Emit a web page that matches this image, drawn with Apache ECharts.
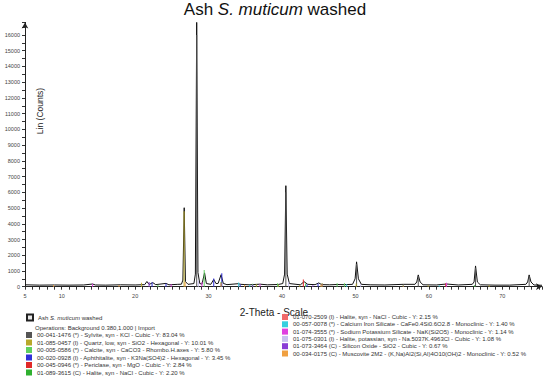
<!DOCTYPE html>
<html>
<head>
<meta charset="utf-8">
<script src="https://cdn.jsdelivr.net/npm/echarts@6/dist/echarts.min.js"></script>
<style>
  html, body { margin: 0; padding: 0; background: #fff; }
  #chart { width: 550px; height: 382px; }
</style>
</head>
<body>
<div id="chart"></div>
<script>
// measured pattern, [2-theta, counts]
const sampleName = 'Ash S. muticum washed'
const pattern = [
  [5, 120], [7, 100], [9, 110], [11, 100], [13, 110], [14.2, 170], [14.6, 110], [16, 100],
  [18, 120], [20, 110], [21.3, 130], [21.6, 330], [21.9, 140], [22.4, 260], [22.8, 130],
  [24.2, 210], [24.6, 120], [25.8, 150], [26.3, 160], [26.5, 420], [26.68, 5020], [26.85, 320],
  [27.2, 150], [28.0, 200], [28.2, 800], [28.38, 16800], [28.55, 900], [28.8, 200], [29.1, 160],
  [29.45, 880], [29.7, 200], [30.3, 150], [30.7, 460], [31.0, 200], [31.3, 210], [31.7, 760],
  [32.0, 210], [32.5, 130], [34.0, 190], [34.4, 150], [35.5, 120], [37.0, 160], [38.0, 120],
  [39.5, 140], [40.1, 200], [40.35, 800], [40.52, 6420], [40.7, 800], [41.0, 200], [42.5, 120],
  [43.0, 320], [43.5, 150], [44.5, 130], [45.0, 240], [45.4, 130], [46.5, 120], [47.5, 140],
  [48.5, 130], [49.6, 150], [49.95, 500], [50.15, 1580], [50.4, 500], [50.8, 150], [52, 120],
  [54, 110], [56.5, 150], [58.1, 150], [58.35, 300], [58.55, 750], [58.8, 300], [59.2, 120],
  [61, 110], [62.4, 170], [64, 110], [65.9, 150], [66.15, 300], [66.35, 1320], [66.6, 300],
  [67.0, 120], [69, 100], [71, 100], [73.2, 150], [73.45, 300], [73.65, 750], [73.9, 300],
  [74.3, 110], [75.4, 90]
]

// phase reference peaks, [2-theta, counts]
const sylvitePeaks = [[28.38, 16000], [40.52, 6000], [50.15, 1450], [58.55, 680], [66.35, 1200], [73.65, 680]]
const quartzPeaks = [[26.66, 4800], [20.86, 250], [36.5, 150], [39.5, 120], [42.4, 100], [50.1, 200], [59.9, 100], [68.2, 100]]
const calcitePeaks = [[29.4, 1060], [23.1, 120], [36.0, 180], [39.4, 220], [43.2, 200], [47.5, 220], [48.5, 220]]
const aphthitalitePeaks = [[30.7, 520], [31.8, 860], [22.3, 280], [24.2, 200], [34.3, 160], [43.4, 150], [44.9, 200]]
const periclasePeaks = [[42.9, 450], [62.3, 220]]
const halitePeaks = [[31.7, 300], [45.45, 220], [56.5, 90], [66.2, 100]]
const halite2Peaks = [[31.7, 250], [45.45, 200], [56.5, 80]]
const caFeSilicatePeaks = [[34.1, 260], [35.6, 120], [48.8, 160], [61.4, 100]]
const naKSilicatePeaks = [[29.1, 300], [14.2, 180], [24.9, 150], [37.0, 170], [62.4, 250]]
const halitePotassianPeaks = [[28.6, 400], [40.9, 300], [50.7, 150]]
const siliconOxidePeaks = [[21.9, 300], [36.0, 120], [44.2, 100]]
const muscovitePeaks = [[8.9, 110], [17.8, 110], [26.8, 300], [34.9, 130], [45.3, 130]]

const phaseNames = [
  '00-041-1476 (*) - Sylvite, syn - KCl - Cubic - Y: 83.04 %',
  '01-085-0457 (I) - Quartz, low, syn - SiO2 - Hexagonal - Y: 10.01 %',
  '00-005-0586 (*) - Calcite, syn - CaCO3 - Rhombo.H.axes - Y: 5.80 %',
  '00-020-0928 (I) - Aphthitalite, syn - K3Na(SO4)2 - Hexagonal - Y: 3.45 %',
  '00-045-0946 (*) - Periclase, syn - MgO - Cubic - Y: 2.84 %',
  '01-089-3615 (C) - Halite, syn - NaCl - Cubic - Y: 2.20 %',
  '01-070-2509 (I) - Halite, syn - NaCl - Cubic - Y: 2.15 %',
  '00-057-0078 (*) - Calcium Iron Silicate - CaFe0.4Si0.6O2.8 - Monoclinic - Y: 1.40 %',
  '01-074-3555 (*) - Sodium Potassium Silicate - NaK(Si2O5) - Monoclinic - Y: 1.14 %',
  '01-075-0301 (I) - Halite, potassian, syn - Na.5037K.4963Cl - Cubic - Y: 1.08 %',
  '01-073-3464 (C) - Silicon Oxide - SiO2 - Cubic - Y: 0.67 %',
  '00-034-0175 (C) - Muscovite 2M2 - (K,Na)Al2(Si,Al)4O10(OH)2 - Monoclinic - Y: 0.52 %'
]
const phasePeaks = [
  sylvitePeaks, quartzPeaks, calcitePeaks, aphthitalitePeaks, periclasePeaks, halitePeaks,
  halite2Peaks, caFeSilicatePeaks, naKSilicatePeaks, halitePotassianPeaks, siliconOxidePeaks, muscovitePeaks
]

const phaseColors = [
  '#555555', '#b8a82a', '#5fd05f', '#3030d8', '#e02828', '#2fb02f',
  '#f06a6a', '#35d0df', '#e040e0', '#c8c0f0', '#8a3cd6', '#f0a040'
]
const font = "'Liberation Sans', Arial, sans-serif"

const chart = echarts.init(document.getElementById('chart'), null, { renderer: 'svg' })

const phaseSeries = phaseNames.map((name, i) => ({
  name: name,
  type: 'bar',
  data: phasePeaks[i],
  barWidth: 1,
  barGap: '-100%',
  itemStyle: { color: phaseColors[i] },
  z: 3
}))

const legendText = {
  fontFamily: font,
  fontSize: 6,
  lineHeight: 6,
  color: '#333',
  rich: {
    n: { fontFamily: font, fontSize: 6, color: '#333' },
    i: { fontFamily: font, fontSize: 6, color: '#333', fontStyle: 'italic' }
  }
}

chart.setOption({
  animation: false,
  backgroundColor: '#fff',
  grid: { left: 25, right: 8, top: 22.4, bottom: 95.3 },
  legend: [
    {
      data: [sampleName], orient: 'vertical', left: 26, top: 313.5,
      itemWidth: 6, itemHeight: 6, icon: 'rect', selectedMode: false, padding: 0,
      textStyle: legendText,
      formatter: () => '{n|Ash }{i|S. muticum}{n| washed}'
    },
    {
      data: phaseNames.slice(0, 6), orient: 'vertical', left: 26, top: 332,
      itemWidth: 6, itemHeight: 6, itemGap: 1.5, icon: 'rect', selectedMode: false, padding: 0,
      textStyle: legendText
    },
    {
      data: phaseNames.slice(6), orient: 'vertical', left: 282, top: 314,
      itemWidth: 6, itemHeight: 6, itemGap: 1.3, icon: 'rect', selectedMode: false, padding: 0,
      textStyle: legendText
    }
  ],
  graphic: [
    {
      type: 'text', left: 'center', top: 1,
      style: {
        text: '{n|Ash }{i|S. muticum}{n| washed}',
        rich: {
          n: { fontFamily: font, fontSize: 17, fill: '#111' },
          i: { fontFamily: font, fontSize: 17, fill: '#111', fontStyle: 'italic' }
        }
      }
    },
    {
      type: 'text', x: 40, y: 111, rotation: Math.PI / 2,
      style: { text: 'Lin (Counts)', fontFamily: font, fontSize: 8.5, fill: '#222', align: 'center', verticalAlign: 'middle' }
    },
    {
      type: 'text', x: 274, y: 312,
      style: { text: '2-Theta - Scale', fontFamily: font, fontSize: 10, fill: '#222', align: 'center', verticalAlign: 'middle' }
    },
    {
      type: 'text', x: 35, y: 327.7,
      style: { text: 'Operations: Background 0.380,1.000 | Import', fontFamily: font, fontSize: 6, fill: '#333', verticalAlign: 'middle' }
    }
  ],
  xAxis: {
    type: 'value',
    min: 5,
    max: 75.4,
    interval: 1,
    axisLine: { lineStyle: { color: '#222', width: 1 }, symbol: ['none', 'arrow'], symbolSize: [5, 6] },
    axisTick: { length: 3, lineStyle: { color: '#333' } },
    axisLabel: {
      fontFamily: font, fontSize: 5.5, color: '#444', margin: 6,
      formatter: v => (v === 5 || v % 10 === 0) ? String(v) : ''
    },
    splitLine: { show: false }
  },
  yAxis: {
    type: 'value',
    min: 0,
    max: 16800,
    interval: 500,
    axisLine: { show: true, lineStyle: { color: '#222', width: 1 }, symbol: ['none', 'arrow'], symbolSize: [5, 6] },
    axisTick: { show: true, length: 3, lineStyle: { color: '#333' } },
    axisLabel: {
      fontFamily: font, fontSize: 5.5, color: '#444', margin: 5,
      formatter: v => v % 1000 === 0 ? String(v) : ''
    },
    splitLine: { show: false }
  },
  series: [
    {
      name: sampleName,
      type: 'line',
      data: pattern,
      symbol: 'none',
      lineStyle: { color: '#111', width: 1 },
      itemStyle: { color: '#e8e8e8', borderColor: '#222', borderWidth: 1 },
      z: 2
    }
  ].concat(phaseSeries)
})
</script>
</body>
</html>
